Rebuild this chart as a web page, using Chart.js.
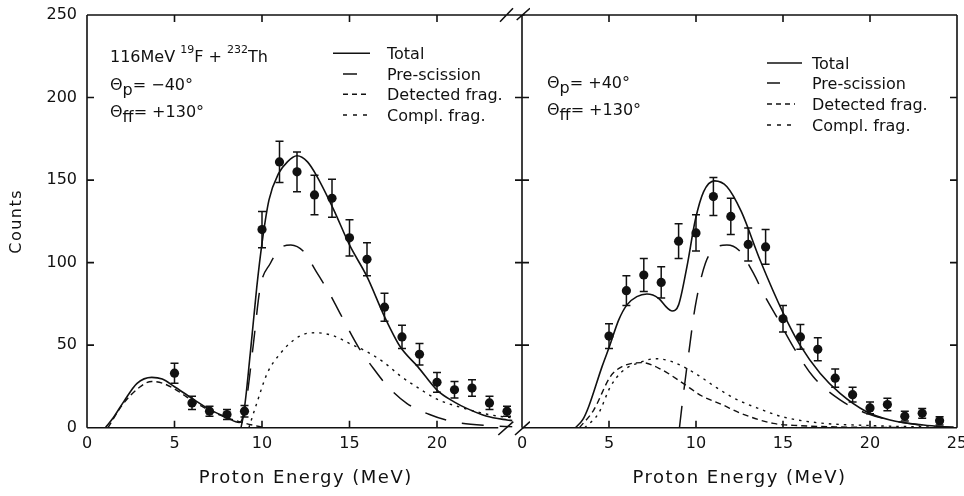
<!DOCTYPE html>
<html><head><meta charset="utf-8">
<script src="https://cdn.jsdelivr.net/npm/chart.js@4.4.1/dist/chart.umd.min.js"></script>
<style>
html,body{margin:0;padding:0;background:#fff;overflow:hidden}
#fig{position:relative;width:964px;height:496px;overflow:hidden;background:#fff;font-family:"DejaVu Sans",sans-serif;color:#111}
#cL{position:absolute;left:0;top:0}
#cR{position:absolute;left:500px;top:0}
.t{position:absolute;font-size:16px;line-height:16px;white-space:nowrap;z-index:3}
.t sup{font-size:11px;vertical-align:0;position:relative;top:-9px}
.t sub{font-size:16px;vertical-align:0;position:relative;top:5px}
svg{position:absolute;left:0;top:0;z-index:3}
</style></head>
<body>
<div id="fig">
  <canvas id="cL" width="530" height="496"></canvas>
  <canvas id="cR" width="480" height="496"></canvas>

  <div class="t" style="left:110px;top:48.5px">116MeV <sup>19</sup>F + <sup>232</sup>Th</div>
  <div class="t" style="left:110px;top:76.5px">Θ<sub>p</sub>= −40°</div>
  <div class="t" style="left:110px;top:103.5px">Θ<sub>ff</sub>= +130°</div>

  <div class="t" style="left:547px;top:74.5px">Θ<sub>p</sub>= +40°</div>
  <div class="t" style="left:547px;top:101.5px">Θ<sub>ff</sub>= +130°</div>

  <div class="t" style="left:387px;top:45.5px">Total</div>
  <div class="t" style="left:387px;top:66.5px">Pre-scission</div>
  <div class="t" style="left:387px;top:86.5px">Detected frag.</div>
  <div class="t" style="left:387px;top:107.5px">Compl. frag.</div>

  <div class="t" style="left:812px;top:55.5px">Total</div>
  <div class="t" style="left:812px;top:75.5px">Pre-scission</div>
  <div class="t" style="left:812px;top:96.5px">Detected frag.</div>
  <div class="t" style="left:812px;top:117.5px">Compl. frag.</div>

  <svg width="964" height="496">
    <g stroke="#111" stroke-width="1.5" fill="none">
      <line x1="333" y1="53.3" x2="370" y2="53.3"/>
      <line x1="343" y1="74" x2="357" y2="74"/>
      <line x1="343" y1="94.3" x2="368" y2="94.3" stroke-dasharray="5 4"/>
      <line x1="343" y1="115" x2="368" y2="115" stroke-dasharray="4 6"/>
      <line x1="767" y1="63" x2="802" y2="63"/>
      <line x1="767" y1="83" x2="780" y2="83"/>
      <line x1="767" y1="104" x2="795" y2="104" stroke-dasharray="5 4"/>
      <line x1="767" y1="125" x2="795" y2="125" stroke-dasharray="4 6"/>
    </g>
  </svg>
</div>
<script>
// ---- axis ticks ----
const yTicks = [0, 50, 100, 150, 200, 250];
const xTicks = [0, 5, 10, 15, 20, 25];

// ---- Left panel (Θp = −40°): experimental points ----
const expEnergyL = [5, 6, 7, 8, 9, 10, 11, 12, 13, 14, 15, 16, 17, 18, 19, 20, 21, 22, 23, 24];
const expCountsL = [33, 15, 10, 8, 10, 120, 161, 155, 141, 139, 115, 102, 73, 55, 44.5, 27.5, 23, 24, 15, 10];
const expErrL    = [6, 4, 3, 3, 3.5, 11, 12.5, 12, 12, 11.5, 11, 10, 8.5, 7, 6.5, 6, 5, 5, 4, 3];

// Left panel curves
const totalEL = [1.05, 1.5, 2.1, 2.86, 3.7, 4.3, 5, 6, 7, 8, 8.5, 8.7, 8.95, 9.33, 9.7, 10, 10.4, 10.95, 11.45, 12, 12.6, 13.1, 14.1, 15, 16, 17, 17.9, 18.9, 20, 21, 21.7, 22.8, 24, 24.3];
const totalVL = [0, 6, 15.8, 26.9, 30.5, 29.5, 24.8, 17.8, 11.1, 6.1, 3.6, 3.2, 8.7, 45, 85, 111.7, 138, 154, 161, 164.7, 161, 153, 132, 110.7, 91.5, 67.3, 49, 37, 22.8, 15.5, 11.7, 7.1, 4.7, 4.3];
const preEL = [8.8, 9.14, 9.5, 9.9, 10.48, 11.05, 11.65, 12.38, 13.1, 13.8, 14.46, 15.5, 16.36, 17.2, 18.27, 19.5, 20.93, 23, 24.3];
const preVL = [0, 18.8, 50, 85, 99.6, 108.7, 110.7, 106.7, 94.5, 82.4, 69.3, 49, 36, 24.8, 14.8, 8.3, 3.6, 1.2, 0.6];
const detEL = [1.2, 2, 3, 3.7, 4.3, 5, 6, 7, 8, 8.6, 9, 9.5, 10];
const detVL = [0, 13.5, 24.5, 28, 27, 23.5, 16.5, 10.5, 6, 4, 2.8, 1.5, 0.3];
const compEL = [9.25, 9.7, 10.3, 11.05, 11.8, 12.5, 13.1, 14.1, 15, 16, 17, 17.9, 18.9, 20, 21.7, 22.8, 24, 24.3];
const compVL = [0, 14.8, 33, 45, 53, 57, 57.5, 55.6, 51, 46, 39.3, 31.4, 24.3, 17.3, 11.3, 8.3, 6.3, 6];

// ---- Right panel (Θp = +40°): experimental points ----
const expEnergyR = [5, 6, 7, 8, 9, 10, 11, 12, 13, 14, 15, 16, 17, 18, 19, 20, 21, 22, 23, 24];
const expCountsR = [55.5, 83, 92.5, 88, 113, 118, 140, 128, 111, 109.5, 66, 55, 47.5, 30, 20, 12, 14, 7, 8.7, 4.2];
const expErrR    = [7.5, 9, 10, 9.5, 10.5, 11, 11.5, 11, 10, 10.5, 8, 7.5, 7, 5.5, 4.5, 3.5, 3.8, 3, 3, 2.5];

// Right panel curves
const totalER = [3.07, 3.5, 3.83, 4.6, 5.02, 5.56, 6.03, 6.6, 7.18, 7.85, 8.33, 8.62, 9.0, 9.48, 9.96, 10.44, 11.07, 11.78, 12.6, 13.68, 15.02, 15.98, 17.13, 18.28, 19.8, 21.15, 23.07, 24.8];
const totalVR = [0, 5, 12.7, 37, 49, 65.3, 74.4, 79.4, 81, 78.4, 72.7, 70.7, 74.4, 97.6, 125.8, 143, 149.5, 146, 131, 101.6, 69.3, 50, 33, 20.8, 9.7, 4.7, 1.6, 0.2];
const preER = [9.05, 9.2, 9.58, 9.96, 10.54, 11.11, 11.78, 12.45, 13.3, 13.87, 14.63, 15.59, 16.74, 18.28, 19.8, 21.15, 23, 24.8];
const preVR = [0, 13.8, 45, 73.6, 99.6, 108.7, 110.7, 107.7, 93.6, 81.4, 67.3, 49, 30.9, 16.8, 8.7, 4.7, 1.5, 0.2];
const detER = [3.3, 4.12, 5.08, 5.75, 6.9, 8.05, 9.2, 10.34, 11.5, 12.5, 14.44, 16, 18, 20, 24];
const detVR = [0, 10.7, 31, 37, 39.4, 35, 27.3, 19.2, 14, 9, 2.6, 1.2, 0.5, 0.2, 0];
const compER = [3.6, 4.4, 5.08, 5.75, 6.9, 7.66, 8.62, 9.96, 11.1, 12.26, 13.68, 15, 17, 20, 24];
const compVR = [0, 8.7, 24.8, 34, 40, 41.8, 40, 32.9, 24.8, 17.5, 11.3, 6.5, 3, 1.3, 0.3];

const INK = '#111';
const pts = (xs, ys) => xs.map((x, i) => ({x, y: ys[i]}));

const spacingPlugin = {
  id: 'spacing',
  beforeDraw(chart) { chart.ctx.letterSpacing = '1.5px'; },
  beforeDatasetsDraw(chart) { chart.ctx.letterSpacing = '0px'; }
};

const errorBarsPlugin = {
  id: 'errorBars',
  afterDatasetsDraw(chart) {
    const {ctx, scales: {x, y}} = chart;
    chart.data.datasets.forEach(ds => {
      if (!ds.errors) return;
      ctx.save();
      ctx.strokeStyle = INK; ctx.lineWidth = 1.5; ctx.setLineDash([]);
      ds.data.forEach((p, i) => {
        const e = ds.errors[i];
        const px = x.getPixelForValue(p.x);
        const y1 = y.getPixelForValue(p.y + e), y2 = y.getPixelForValue(p.y - e);
        ctx.beginPath();
        ctx.moveTo(px, y1); ctx.lineTo(px, y2);
        ctx.moveTo(px - 4, y1); ctx.lineTo(px + 4, y1);
        ctx.moveTo(px - 4, y2); ctx.lineTo(px + 4, y2);
        ctx.stroke();
      });
      ctx.restore();
    });
  }
};

const framePlugin = {
  id: 'frame',
  afterDraw(chart, args, opts) {
    const {ctx, chartArea: a, scales: {x, y}} = chart;
    const T = 7;
    ctx.save();
    ctx.strokeStyle = INK; ctx.lineWidth = 1.6; ctx.setLineDash([]); ctx.lineCap = 'butt';
    ctx.beginPath();
    // top border
    ctx.moveTo(a.left, a.top); ctx.lineTo(a.right, a.top);
    if (opts.side === 'left') {
      ctx.moveTo(a.left, a.top); ctx.lineTo(a.left, a.bottom);
      ctx.moveTo(a.left, a.bottom); ctx.lineTo(x.getPixelForValue(opts.bottomEnd), a.bottom);
      yTicks.slice(1, -1).forEach(v => { const p = y.getPixelForValue(v); ctx.moveTo(a.left, p); ctx.lineTo(a.left + T, p); });
      // axis-break marks
      ctx.moveTo(a.right - 24.5, a.top + 6.7); ctx.lineTo(a.right - 11.5, a.top - 6.7);
      ctx.moveTo(a.right - 7.8, a.top + 5); ctx.lineTo(a.right + 5.5, a.top - 6.7);
      ctx.moveTo(a.right - 26.2, a.bottom + 7.3); ctx.lineTo(a.right - 11.2, a.bottom - 6);
      ctx.moveTo(a.right - 9.5, a.bottom + 7.3); ctx.lineTo(a.right + 5.5, a.bottom - 6);
    } else {
      ctx.moveTo(a.left, a.top); ctx.lineTo(a.left, a.bottom);
      ctx.moveTo(a.right, a.top); ctx.lineTo(a.right, a.bottom);
      ctx.moveTo(a.left, a.bottom); ctx.lineTo(a.right, a.bottom);
      yTicks.slice(1, -1).forEach(v => {
        const p = y.getPixelForValue(v);
        ctx.moveTo(a.left - T, p); ctx.lineTo(a.left + T, p);
        ctx.moveTo(a.right - T, p); ctx.lineTo(a.right, p);
      });
    }
    xTicks.slice(1, -1).forEach(v => {
      const p = x.getPixelForValue(v);
      ctx.moveTo(p, a.top); ctx.lineTo(p, a.top + T);
      ctx.moveTo(p, a.bottom); ctx.lineTo(p, a.bottom - T);
    });
    ctx.stroke();
    ctx.restore();
  }
};

function curve(data, dash, width) {
  return {type: 'line', data, borderColor: INK, borderWidth: width, borderDash: dash,
    pointRadius: 0, fill: false, cubicInterpolationMode: 'monotone', order: 2};
}

function makePanel(id, side, d) {
  const isLeft = side === 'left';
  return new Chart(document.getElementById(id), {
    type: 'line',
    data: {
      datasets: [
        {type: 'line', data: pts(d.ex, d.ey), errors: d.ee, showLine: false,
         pointRadius: 4.6, pointBackgroundColor: INK, pointBorderWidth: 0, order: 0},
        curve(pts(d.tE, d.tV), [], 1.6),
        curve(pts(d.pE, d.pV), [22, 16], 1.5),
        curve(pts(d.dE, d.dV), [6, 4], 1.4),
        curve(pts(d.cE, d.cV), [2.5, 5], 1.4)
      ]
    },
    options: {
      responsive: false, animation: false, events: [],
      layout: {padding: isLeft ? {left: 0, top: 15, right: 5.5, bottom: 0} : {left: 22, top: 15, right: 23, bottom: 0}},
      plugins: {legend: {display: false}, tooltip: {enabled: false}, frame: {side, bottomEnd: 23.5}},
      scales: {
        x: {
          type: 'linear', min: 0, max: 25,
          afterBuildTicks: s => { s.ticks = xTicks.map(v => ({value: v})); },
          afterFit: s => { s.height = 68.3; s.paddingLeft = 0; s.paddingRight = 0; },
          grid: {display: false, drawTicks: false}, border: {display: false},
          ticks: {z: 1, padding: 7, color: INK, font: {family: 'DejaVu Sans', size: 16},
                  maxRotation: 0, autoSkip: false,
                  callback: v => (isLeft && v === 25) ? '' : String(v)},
          title: {display: true, text: 'Proton Energy (MeV)', color: INK,
                  font: {family: 'DejaVu Sans', size: 18}, padding: {top: 4, bottom: 7}}
        },
        y: {
          type: 'linear', min: 0, max: 250, display: isLeft,
          afterBuildTicks: s => { s.ticks = yTicks.map(v => ({value: v})); },
          afterFit: s => { if (isLeft) s.width = 87; s.paddingTop = 0; s.paddingBottom = 0; },
          grid: {display: false, drawTicks: false}, border: {display: false},
          ticks: {z: 1, padding: 10, color: INK, font: {family: 'DejaVu Sans', size: 16}},
          title: {display: true, text: 'Counts', color: INK,
                  font: {family: 'DejaVu Sans', size: 16}, padding: {top: 7, bottom: 0}}
        }
      }
    },
    plugins: [spacingPlugin, errorBarsPlugin, framePlugin]
  });
}

makePanel('cL', 'left', {ex: expEnergyL, ey: expCountsL, ee: expErrL,
  tE: totalEL, tV: totalVL, pE: preEL, pV: preVL, dE: detEL, dV: detVL, cE: compEL, cV: compVL});
makePanel('cR', 'right', {ex: expEnergyR, ey: expCountsR, ee: expErrR,
  tE: totalER, tV: totalVR, pE: preER, pV: preVR, dE: detER, dV: detVR, cE: compER, cV: compVR});
</script>
</body></html>
